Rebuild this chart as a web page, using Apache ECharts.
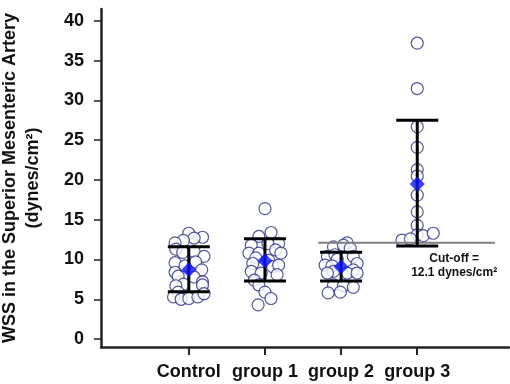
<!DOCTYPE html>
<html>
<head>
<meta charset="utf-8">
<script src="https://cdn.jsdelivr.net/npm/echarts@6/dist/echarts.min.js"></script>
<style>
html, body { margin: 0; padding: 0; background: #fff; }
#chart { width: 510px; height: 384px; }
</style>
</head>
<body>
<div id="chart"></div>
<script>
var categories = ['Control', 'group 1', 'group 2', 'group 3'];

// individual values per group: [WSS, horizontal jitter in category units]
var controlPoints = [
    [13.3, 0.00], [12.8, 0.18], [12.7, 0.07], [12.4, -0.07], [12.1, -0.18], [11.3, -0.17],
    [10.9, -0.08], [11.0, 0.07], [10.4, 0.20], [9.6, -0.18], [9.7, 0.09], [9.2, -0.05],
    [8.7, 0.17], [8.4, -0.18], [7.9, -0.14], [7.8, 0.07], [7.2, 0.18], [6.8, 0.18],
    [6.9, -0.07], [6.7, -0.17], [5.9, -0.14], [5.3, -0.20], [5.0, -0.10], [5.1, 0.00],
    [5.3, 0.12], [5.7, 0.20]
];
var group1Points = [
    [16.4, 0.00], [13.4, 0.08], [12.9, -0.08], [12.0, 0.18], [11.8, -0.18], [12.0, 0.04],
    [11.2, 0.14], [10.8, -0.21], [10.8, -0.08], [10.8, 0.21], [10.2, -0.12], [9.9, 0.05],
    [9.5, -0.16], [9.1, 0.10], [9.3, 0.18], [8.5, -0.18], [8.3, -0.05], [8.1, 0.16],
    [7.4, -0.14], [6.8, -0.08], [5.9, 0.00], [5.1, 0.08], [4.3, -0.09]
];
var group2Points = [
    [12.1, 0.08], [11.6, -0.10], [11.8, 0.03], [11.4, 0.12], [10.4, -0.18], [10.6, -0.08],
    [10.4, 0.16], [10.0, -0.05], [9.5, 0.21], [9.3, -0.21], [9.2, -0.12], [8.7, 0.16],
    [8.5, -0.10], [8.3, -0.18], [8.3, 0.08], [8.3, 0.21], [6.8, -0.10], [6.7, 0.03],
    [6.5, 0.16], [5.9, -0.01], [5.8, -0.17]
];
var group3Points = [
    [37.2, 0.00], [31.5, 0.00], [26.7, 0.00], [24.1, 0.00], [21.3, 0.00], [20.5, 0.00],
    [18.1, 0.00], [16.0, 0.00], [14.3, 0.00], [13.1, 0.00], [12.45, -0.20], [12.6, -0.09],
    [13.0, 0.08], [13.3, 0.21]
];

var groupMeans = [8.7, 9.85, 9.1, 19.5];
var sdLow = [5.95, 7.3, 7.3, 11.7];
var sdHigh = [11.6, 12.6, 10.9, 27.5];

var cutOff = 12.1;
var cutOffStart = 1.70;
var cutOffEnd = 4.02;
var cutOffLabel = ['Cut-off =', '12.1 dynes/cm²'];

var yTicks = [0, 5, 10, 15, 20, 25, 30, 35, 40];
var xTicks = [0, 1, 2, 3];

var allGroups = [controlPoints, group1Points, group2Points, group3Points];
var scatterData = [];
for (var g = 0; g < allGroups.length; g++) {
    for (var i = 0; i < allGroups[g].length; i++) {
        scatterData.push([g + allGroups[g][i][1], allGroups[g][i][0]]);
    }
}
var meanData = [];
var barData = [];
for (var k = 0; k < categories.length; k++) {
    meanData.push([k, groupMeans[k]]);
    barData.push([k, sdLow[k], sdHigh[k]]);
}

var chart = echarts.init(document.getElementById('chart'));

var axisFont = {
    fontFamily: '"Liberation Sans", Arial, sans-serif',
    fontWeight: 'bold',
    fontSize: 18,
    color: '#111'
};

var option = {
    animation: false,
    grid: { left: 101, right: 1, top: 9, bottom: 37, outerBoundsMode: 'none', containLabel: false },
    xAxis: {
        type: 'value',
        min: -1.153,
        max: 4.205,
        splitLine: { show: false },
        axisLine: { show: true, onZero: false, lineStyle: { color: '#222', width: 2.5 } },
        axisTick: { show: true, customValues: xTicks, length: 8, lineStyle: { color: '#222', width: 2 } },
        axisLabel: Object.assign({
            customValues: xTicks,
            margin: 16,
            formatter: function (v) { return categories[Math.round(v)]; }
        }, axisFont)
    },
    yAxis: {
        type: 'value',
        min: -1,
        max: 41.5,
        name: 'WSS in the Superior Mesenteric Artery\n(dynes/cm²)',
        nameLocation: 'middle',
        nameGap: 56,
        nameRotate: 90,
        nameTextStyle: Object.assign({ lineHeight: 23 }, axisFont),
        splitLine: { show: false },
        axisLine: { show: true, onZero: false, lineStyle: { color: '#222', width: 2.5 } },
        axisTick: { show: true, customValues: yTicks, length: 7, lineStyle: { color: '#222', width: 1.5 } },
        axisLabel: Object.assign({ customValues: yTicks, margin: 17 }, axisFont)
    },
    series: [
        {
            name: 'values',
            type: 'scatter',
            symbol: 'circle',
            symbolSize: 12,
            itemStyle: { color: '#fff', borderColor: '#2b2e83', borderWidth: 1.2 },
            data: scatterData,
            z: 2
        },
        {
            name: 'cut-off',
            type: 'custom',
            data: [[cutOffStart, cutOffEnd, cutOff]],
            renderItem: function (params, api) {
                var p0 = api.coord([api.value(0), api.value(2)]);
                var p1 = api.coord([api.value(1), api.value(2)]);
                var mid = api.coord([3.485, api.value(2)]);
                return {
                    type: 'group',
                    children: [
                        {
                            type: 'line',
                            shape: { x1: p0[0], y1: p0[1], x2: p1[0], y2: p1[1] },
                            style: { stroke: '#7f7f7f', lineWidth: 2 }
                        },
                        {
                            type: 'text',
                            x: mid[0],
                            y: mid[1] + 9,
                            style: {
                                text: cutOffLabel.join('\n'),
                                align: 'center',
                                verticalAlign: 'top',
                                lineHeight: 14,
                                fontFamily: '"Liberation Sans", Arial, sans-serif',
                                fontWeight: 'bold',
                                fontSize: 12,
                                fill: '#111'
                            }
                        }
                    ]
                };
            },
            z: 3
        },
        {
            name: 'sd',
            type: 'custom',
            data: barData,
            renderItem: function (params, api) {
                var lo = api.coord([api.value(0), api.value(1)]);
                var hi = api.coord([api.value(0), api.value(2)]);
                var hw = 21;
                var st = { stroke: '#000', lineWidth: 3 };
                return {
                    type: 'group',
                    children: [
                        { type: 'line', shape: { x1: lo[0], y1: lo[1], x2: hi[0], y2: hi[1] }, style: st },
                        { type: 'line', shape: { x1: hi[0] - hw, y1: hi[1], x2: hi[0] + hw, y2: hi[1] }, style: st },
                        { type: 'line', shape: { x1: lo[0] - hw, y1: lo[1], x2: lo[0] + hw, y2: lo[1] }, style: st }
                    ]
                };
            },
            z: 4
        },
        {
            name: 'mean',
            type: 'scatter',
            symbol: 'diamond',
            symbolSize: [15, 15],
            itemStyle: { color: '#0a14ff' },
            data: meanData,
            z: 5
        }
    ]
};
chart.setOption(option);
</script>
</body>
</html>
